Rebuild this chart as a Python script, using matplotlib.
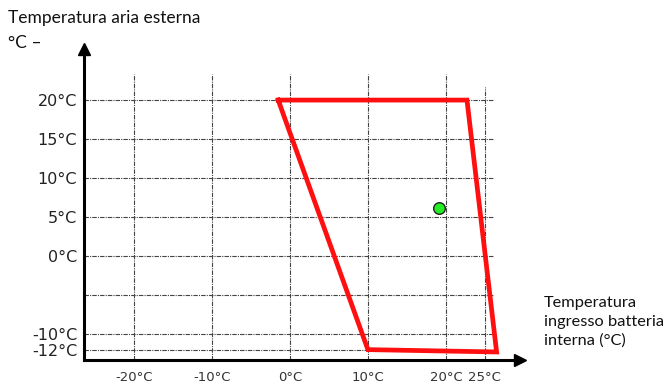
import matplotlib
matplotlib.use("Agg")
import matplotlib.pyplot as plt

# envelope (x = indoor coil inlet temp, y = outdoor air temp)
env_x = [-1.5, 22.7, 26.5, 10.0, -1.5]
env_y = [20.0, 20.0, -12.3, -12.0, 20.0]

point_x = [19.1]
point_y = [6.2]

xgrid = [-20, -10, 0, 10, 20, 25]
xlabels = ["-20°C", "-10°C", "0°C", "10°C", "20°C", "25°C"]
ygrid = [20, 15, 10, 5, 0, -5, -10, -12]
yticks = [20, 15, 10, 5, 0, -10, -12]
ylabels = ["20°C", "15°C", "10°C", "5°C", "0°C", "-10°C", "-12°C"]

W, H = 670, 385
fig = plt.figure(figsize=(W / 100, H / 100), dpi=100)
# axes from y-axis line (px 84) to arrow tip (px 520), x-axis (px 360) to tip (px 49)
ax = fig.add_axes([84 / W, (H - 360) / H, (520 - 84) / W, (360 - 49) / H])
ax.set_xlim(-26.4, 29.5)
ax.set_ylim(-13.33, 26.55)

for s in ["top", "right"]:
    ax.spines[s].set_visible(False)
for s in ["left", "bottom"]:
    ax.spines[s].set_linewidth(2.2)
    ax.spines[s].set_color("black")
ax.plot(1, 0, ">k", ms=8, transform=ax.transAxes, clip_on=False)
ax.plot(0, 1, "^k", ms=8, transform=ax.transAxes, clip_on=False)

grid_style = dict(color="#444444", lw=0.8, linestyle=(0, (4, 1, 1, 1)), zorder=1)
for gy in ygrid:
    ax.plot([-26.4, 26.0], [gy, gy], **grid_style)
for gx in xgrid:
    top = 21.7 if gx == 25 else 23.3
    ax.plot([gx, gx], [-13.33, top], **grid_style)

ax.plot(env_x, env_y, color="#ff0f0f", lw=3.4, solid_joinstyle="miter", zorder=3)
ax.scatter(point_x, point_y, s=70, color="#22ee22", edgecolor="#222222", linewidth=1, zorder=4)

ax.set_xticks(xgrid)
ax.set_xticklabels(xlabels, fontsize=9.5, color="#333333")
ax.set_yticks(yticks)
ax.set_yticklabels(ylabels, fontsize=11.5, color="#222222")
ax.tick_params(axis="both", length=0)
ax.tick_params(axis="x", pad=8)
ax.tick_params(axis="y", pad=5)

fig.text(8 / W, 1 - 18 / H, "Temperatura aria esterna", fontsize=12.5, family="Lato",
         va="center", ha="left", color="#111111")
fig.text(8 / W, 1 - 43 / H, "°C –", fontsize=12.5, family="Lato",
         va="center", ha="left", color="#111111")
fig.text(544 / W, 1 - 322 / H, "Temperatura\ningresso batteria\ninterna (°C)", fontsize=11.8,
         family="Lato", va="center", ha="left", color="#111111", linespacing=1.45)

fig.savefig("out.png", dpi=100)
